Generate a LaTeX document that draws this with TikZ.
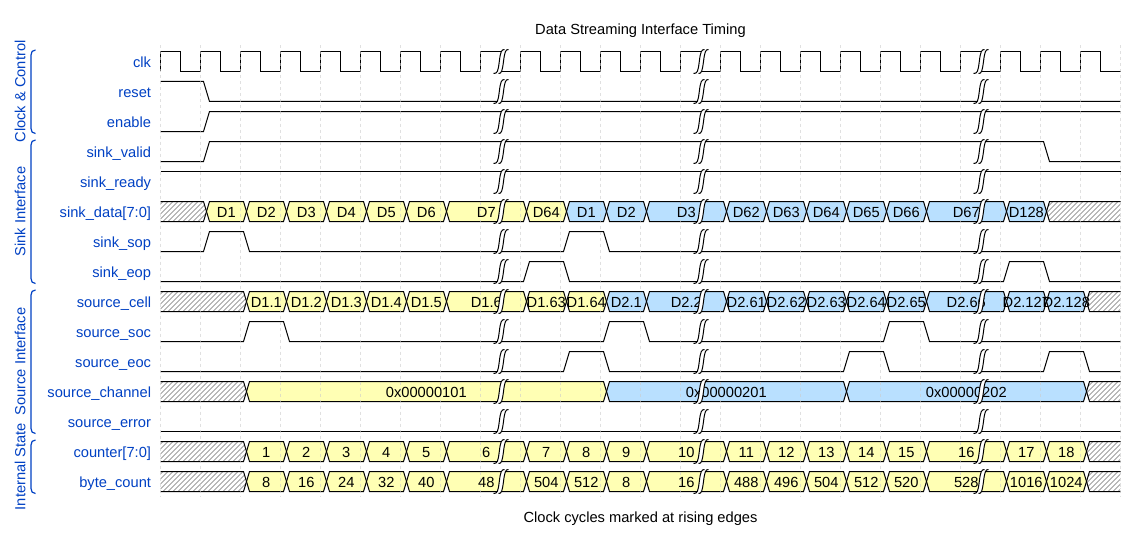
\documentclass[tikz,border=0pt]{standalone}
\usepackage{fontspec}
\setmainfont{Liberation Sans}
\definecolor{lblue}{HTML}{0041C4}
\definecolor{yel}{HTML}{FFFFB4}
\definecolor{blu}{HTML}{B9E0FF}
\pgfdeclarelayer{gridl}\pgfdeclarelayer{textl}\pgfdeclarelayer{gapl}
\pgfsetlayers{main,gridl,textl,gapl}
\tikzset{
  wave/.style={draw=black,line width=0.75pt,line join=miter},
  sig/.style={text=lblue,anchor=base east,inner sep=0pt,font=\fontsize{11}{13}\selectfont},
  grp/.style={text=lblue,anchor=base,rotate=90,inner sep=0pt,font=\fontsize{11}{13}\selectfont},
  bustxt/.style={text=black,anchor=base,inner sep=0pt,font=\fontsize{11}{13}\selectfont},
  plain/.style={text=black,anchor=base,inner sep=0pt,font=\fontsize{11}{13}\selectfont},
  brace/.style={draw=lblue,line width=0.9pt},
  gridline/.style={draw=gray!40,opacity=0.6,line width=0.75pt,dash pattern=on 2.25pt off 2.25pt},
  hatchline/.style={draw=black!55,line width=0.4pt}
}
% bus row: #1 top y, #2 list of x0/x1/colour/text
\newcommand\busrow[2]{%
  \foreach \xa/\xb/\col/\txt in {#2}{%
    \filldraw[wave,fill=\col] (\xa+6,#1+10) -- (\xa+9,#1) -- (\xb+3,#1) -- (\xb+6,#1+10) -- (\xb+3,#1+20) -- (\xa+9,#1+20) -- cycle;
    \begin{pgfonlayer}{textl}
      \node[bustxt] (t#1-\xa) at ({(\xa+\xb)/2+5.8},#1+15.5) {\txt};
    \end{pgfonlayer}
  }%
}
% hatch from the left edge up to x1
\newcommand\hatchL[2]{%
  \begin{scope}
    \clip (160,#1) -- (#2+3,#1) -- (#2+6,#1+10) -- (#2+3,#1+20) -- (160,#1+20) -- cycle;
    \foreach \h in {0,5,...,170}{\draw[hatchline] (160+\h-25,#1+22.5) -- (160+\h,#1-2.5);}
  \end{scope}
  \draw[wave] (160,#1) -- (#2+3,#1) -- (#2+6,#1+10) -- (#2+3,#1+20) -- (160,#1+20);
}
% hatch from x0 to the right edge
\newcommand\hatchR[2]{%
  \begin{scope}
    \clip (#2+6,#1+10) -- (#2+9,#1) -- (1120,#1) -- (1120,#1+20) -- (#2+9,#1+20) -- cycle;
    \foreach \h in {0,5,...,110}{\draw[hatchline] (#2+\h-25,#1+22.5) -- (#2+\h,#1-2.5);}
  \end{scope}
  \draw[wave] (1120,#1) -- (#2+9,#1) -- (#2+6,#1+10) -- (#2+9,#1+20) -- (1120,#1+20);
}
\newcommand\gapmark[2]{%
  \begin{pgfonlayer}{gapl}
    \fill[white] (#1-7,#2+22) .. controls (#1-3,#2+22) and (#1-2.5,#2+20) .. (#1-1.2,#2+10)
      .. controls (#1,#2) and (#1+1,#2-2) .. (#1+4,#2-2) -- (#1+8,#2-2)
      .. controls (#1+5,#2-2) and (#1+4.3,#2) .. (#1+3,#2+10)
      .. controls (#1+1.7,#2+20) and (#1+1,#2+22) .. (#1-2,#2+22) -- cycle;
    \draw[wave] (#1-7,#2+22) .. controls (#1-3,#2+22) and (#1-2.5,#2+20) .. (#1-1.2,#2+10)
      .. controls (#1,#2) and (#1+1,#2-2) .. (#1+4,#2-2);
    \draw[wave] (#1-2,#2+22) .. controls (#1+1,#2+22) and (#1+1.7,#2+20) .. (#1+3,#2+10)
      .. controls (#1+4.3,#2) and (#1+5,#2-2) .. (#1+8,#2-2);
  \end{pgfonlayer}
}
\newcommand\bracket[2]{%
  \draw[brace] (35,#1) .. controls (32,#1) and (30.5,#1+2) .. (30.5,#1+5) -- (30.5,#2-5) .. controls (30.5,#2-2) and (32,#2) .. (35,#2);
}
\begin{document}
\begin{tikzpicture}[x=0.75pt,y=-0.75pt]
\useasboundingbox (-0.5,-0.5) rectangle (1139.5,541.5);
\fill[white] (-0.5,-0.5) rectangle (1139.5,541.5);
% titles
\node[plain] (title) at (640,34.5) {Data Streaming Interface Timing};
\node[plain] (foot) at (640,522) {Clock cycles marked at rising edges};
% group brackets
\bracket{49.5}{133}
\bracket{139.5}{283}
\bracket{289.5}{433}
\bracket{439.5}{493}
\node[grp] (g1) at (24.8,91) {Clock \& Control};
\node[grp] (g2) at (24.8,211) {Sink Interface};
\node[grp] (g3) at (24.8,361) {Source Interface};
\node[grp] (g4) at (24.8,466) {Internal State};
% signal names
\foreach \nm/\yy [count=\i] in {clk/66,reset/96,enable/126,sink\_valid/156,sink\_ready/186,sink\_data[7:0]/216,sink\_sop/246,sink\_eop/276,source\_cell/306,source\_soc/336,source\_eoc/366,source\_channel/396,source\_error/426,counter[7:0]/456,byte\_count/486}{
  \node[sig] (s\i) at (150.8,\yy+1) {\nm};
}
% clk: falling edges hidden under the time gaps at 500, 700, 980
\draw[wave] (160,71) -- (160,51)
  \foreach \k in {0,...,23}{ -- (160+40*\k+20,51)
     \ifnum\k=8 (160+40*\k+20,71) \else \ifnum\k=13 (160+40*\k+20,71) \else \ifnum\k=20 (160+40*\k+20,71) \else -- (160+40*\k+20,71) \fi\fi\fi
     -- (160+40*\k+40,71) \ifnum\k<23 -- (160+40*\k+40,51)\fi };
% single-bit signals
\draw[wave] (160,81) -- (203,81) -- (209,101) -- (1120,101);
\draw[wave] (160,131) -- (203,131) -- (209,111) -- (1120,111);
\draw[wave] (160,161) -- (203,161) -- (209,141) -- (1043,141) -- (1049,161) -- (1120,161);
\draw[wave] (160,171) -- (1120,171);
\draw[wave] (160,251) -- (203,251) -- (209,231) -- (243,231) -- (249,251) -- (563,251) -- (569,231) -- (603,231) -- (609,251) -- (1120,251);
\draw[wave] (160,281) -- (523,281) -- (529,261) -- (563,261) -- (569,281) -- (1003,281) -- (1009,261) -- (1043,261) -- (1049,281) -- (1120,281);
\draw[wave] (160,341) -- (243,341) -- (249,321) -- (283,321) -- (289,341) -- (603,341) -- (609,321) -- (643,321) -- (649,341) -- (883,341) -- (889,321) -- (923,321) -- (929,341) -- (1120,341);
\draw[wave] (160,371) -- (563,371) -- (569,351) -- (603,351) -- (609,371) -- (843,371) -- (849,351) -- (883,351) -- (889,371) -- (1043,371) -- (1049,351) -- (1083,351) -- (1089,371) -- (1120,371);
\draw[wave] (160,431) -- (1120,431);
% sink_data
\hatchL{201}{200}
\busrow{201}{200/240/yel/D1,240/280/yel/D2,280/320/yel/D3,320/360/yel/D4,360/400/yel/D5,400/440/yel/D6,440/520/yel/D7,520/560/yel/D64,560/600/blu/D1,600/640/blu/D2,640/720/blu/D3,720/760/blu/D62,760/800/blu/D63,800/840/blu/D64,840/880/blu/D65,880/920/blu/D66,920/1000/blu/D67,1000/1040/blu/D128}
\hatchR{201}{1040}
% source_cell
\hatchL{291}{240}
\busrow{291}{240/280/yel/D1.1,280/320/yel/D1.2,320/360/yel/D1.3,360/400/yel/D1.4,400/440/yel/D1.5,440/520/yel/D1.6,520/560/yel/D1.63,560/600/yel/D1.64,600/640/blu/D2.1,640/720/blu/D2.2,720/760/blu/D2.61,760/800/blu/D2.62,800/840/blu/D2.63,840/880/blu/D2.64,880/920/blu/D2.65,920/1000/blu/D2.66,1000/1040/blu/D2.127,1040/1080/blu/D2.128}
\hatchR{291}{1080}
% source_channel
\hatchL{381}{240}
\busrow{381}{240/600/yel/0x00000101,600/840/blu/0x00000201,840/1080/blu/0x00000202}
\hatchR{381}{1080}
% counter
\hatchL{441}{240}
\busrow{441}{240/280/yel/1,280/320/yel/2,320/360/yel/3,360/400/yel/4,400/440/yel/5,440/520/yel/6,520/560/yel/7,560/600/yel/8,600/640/yel/9,640/720/yel/10,720/760/yel/11,760/800/yel/12,800/840/yel/13,840/880/yel/14,880/920/yel/15,920/1000/yel/16,1000/1040/yel/17,1040/1080/yel/18}
\hatchR{441}{1080}
% byte_count
\hatchL{471}{240}
\busrow{471}{240/280/yel/8,280/320/yel/16,320/360/yel/24,360/400/yel/32,400/440/yel/40,440/520/yel/48,520/560/yel/504,560/600/yel/512,600/640/yel/8,640/720/yel/16,720/760/yel/488,760/800/yel/496,800/840/yel/504,840/880/yel/512,880/920/yel/520,920/1000/yel/528,1000/1040/yel/1016,1040/1080/yel/1024}
\hatchR{471}{1080}
% grid
\begin{pgfonlayer}{gridl}
  \foreach \k in {0,...,24}{\draw[gridline] (160+40*\k,45) -- (160+40*\k,496);}
\end{pgfonlayer}
% time gaps
\foreach \gx in {500,700,980}{
  \foreach \r in {0,...,14}{\gapmark{\gx}{51+30*\r}}
}
\end{tikzpicture}
\end{document}
